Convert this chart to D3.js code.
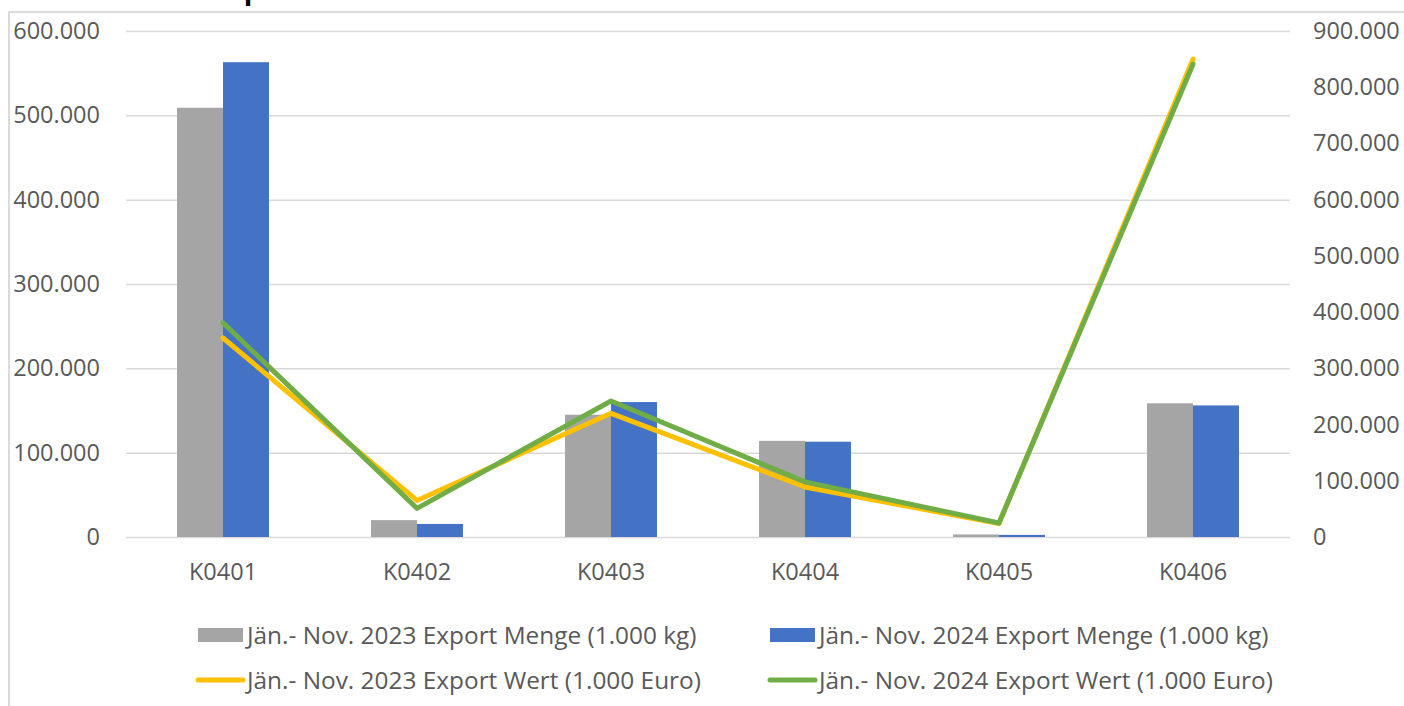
<!DOCTYPE html>
<html>
<head>
<meta charset="utf-8">
<script src="https://cdn.jsdelivr.net/npm/d3@7"></script>
<style>
    body { margin: 0; background: #fff; }
    svg text { font-family: "Open Sans", sans-serif; fill: #595959; }
</style>
</head>
<body>
<svg id="chart" width="1404" height="706"></svg>
<script>
/**
 * Export Menge / Wert chart
 */
(function () {

    // data
    var categories = ["K0401", "K0402", "K0403", "K0404", "K0405", "K0406"];
    var menge2023 = [509000, 20000, 145000, 114000, 3000, 158500];
    var menge2024 = [563000, 15500, 160000, 113000, 2500, 156000];
    var wert2023 = [354000, 65000, 220000, 89000, 24000, 850000];
    var wert2024 = [381000, 51000, 242000, 98000, 25000, 841000];

    var leftTicks = [0, 100000, 200000, 300000, 400000, 500000, 600000];
    var rightTicks = [0, 100000, 200000, 300000, 400000, 500000, 600000, 700000, 800000, 900000];

    var barNames = ["Jän.- Nov. 2023 Export Menge (1.000 kg)", "Jän.- Nov. 2024 Export Menge (1.000 kg)"];
    var lineNames = ["Jän.- Nov. 2023 Export Wert (1.000 Euro)", "Jän.- Nov. 2024 Export Wert (1.000 Euro)"];

    var barColors = ["#a5a5a5", "#4472c4"];
    var lineColors = ["#ffc000", "#70ad47"];

    var left = 126, right = 1290, top = 31, bottom = 537;

    var de = d3.formatLocale({ decimal: ",", thousands: ".", grouping: [3], currency: ["", " €"] });
    var fmt = de.format(",.0f");

    var svg = d3.select("#chart");

    // chart frame (cut off on the right and bottom)
    svg.append("path")
        .attr("d", "M9,706 V12 H1404")
        .attr("fill", "none")
        .attr("stroke", "#d0d0d0")
        .attr("stroke-width", 1.5);

    // title, mostly outside the picture
    svg.append("text")
        .attr("x", 212)
        .attr("y", -1)
        .style("font-size", "28px")
        .style("font-weight", "bold")
        .style("fill", "#000")
        .text("Export");

    var x = d3.scaleBand()
        .domain(categories)
        .range([left, right])
        .paddingInner(0.526)
        .paddingOuter(0.263);

    var x1 = d3.scaleBand()
        .domain([0, 1])
        .range([0, x.bandwidth()]);

    var yL = d3.scaleLinear().domain([0, 600000]).range([bottom, top]);
    var yR = d3.scaleLinear().domain([0, 900000]).range([bottom, top]);

    // gridlines
    var grid = svg.append("g")
        .attr("transform", "translate(" + left + ",0)")
        .call(d3.axisLeft(yL).tickValues(leftTicks).tickSize(-(right - left)).tickFormat(""));
    grid.select(".domain").remove();
    grid.selectAll("line").attr("stroke", "#d9d9d9").attr("stroke-width", 1.5);

    // axes labels
    var axL = svg.append("g")
        .attr("transform", "translate(" + left + ",0)")
        .call(d3.axisLeft(yL).tickValues(leftTicks).tickSize(0).tickPadding(26).tickFormat(fmt));
    var axR = svg.append("g")
        .attr("transform", "translate(" + right + ",0)")
        .call(d3.axisRight(yR).tickValues(rightTicks).tickSize(0).tickPadding(23).tickFormat(fmt));
    var axX = svg.append("g")
        .attr("transform", "translate(0," + bottom + ")")
        .call(d3.axisBottom(x).tickSize(0).tickPadding(26));

    [axL, axR, axX].forEach(function (ax) {
        ax.select(".domain").remove();
        ax.selectAll("text")
            .attr("fill", "#595959")
            .style("font-size", "23.5px")
            .style("font-family", "'Open Sans', sans-serif");
    });

    // bars
    [menge2023, menge2024].forEach(function (series, s) {
        svg.append("g")
            .selectAll("rect")
            .data(series)
            .join("rect")
            .attr("x", function (d, i) { return x(categories[i]) + x1(s); })
            .attr("y", function (d) { return yL(d); })
            .attr("width", x1.bandwidth())
            .attr("height", function (d) { return yL(0) - yL(d); })
            .attr("fill", barColors[s]);
    });

    // lines on the right axis
    var line = d3.line()
        .x(function (d, i) { return x(categories[i]) + x.bandwidth() / 2; })
        .y(function (d) { return yR(d); });

    [wert2023, wert2024].forEach(function (series, s) {
        svg.append("path")
            .datum(series)
            .attr("d", line)
            .attr("fill", "none")
            .attr("stroke", lineColors[s])
            .attr("stroke-width", 5)
            .attr("stroke-linecap", "round")
            .attr("stroke-linejoin", "round");
    });

    // legend
    var legendCols = [198, 770];
    var legendRows = [635, 680];
    var legend = svg.append("g").style("font-size", "24.4px");

    barNames.forEach(function (name, s) {
        legend.append("rect")
            .attr("x", legendCols[s])
            .attr("y", legendRows[0] - 7)
            .attr("width", 45)
            .attr("height", 14)
            .attr("fill", barColors[s]);
        legend.append("text")
            .attr("x", legendCols[s] + 49)
            .attr("y", legendRows[0])
            .attr("dy", "0.35em")
            .text(name);
    });

    lineNames.forEach(function (name, s) {
        legend.append("line")
            .attr("x1", legendCols[s])
            .attr("x2", legendCols[s] + 45)
            .attr("y1", legendRows[1])
            .attr("y2", legendRows[1])
            .attr("stroke", lineColors[s])
            .attr("stroke-width", 5)
            .attr("stroke-linecap", "round");
        legend.append("text")
            .attr("x", legendCols[s] + 49)
            .attr("y", legendRows[1])
            .attr("dy", "0.35em")
            .text(name);
    });

})();
</script>
</body>
</html>
